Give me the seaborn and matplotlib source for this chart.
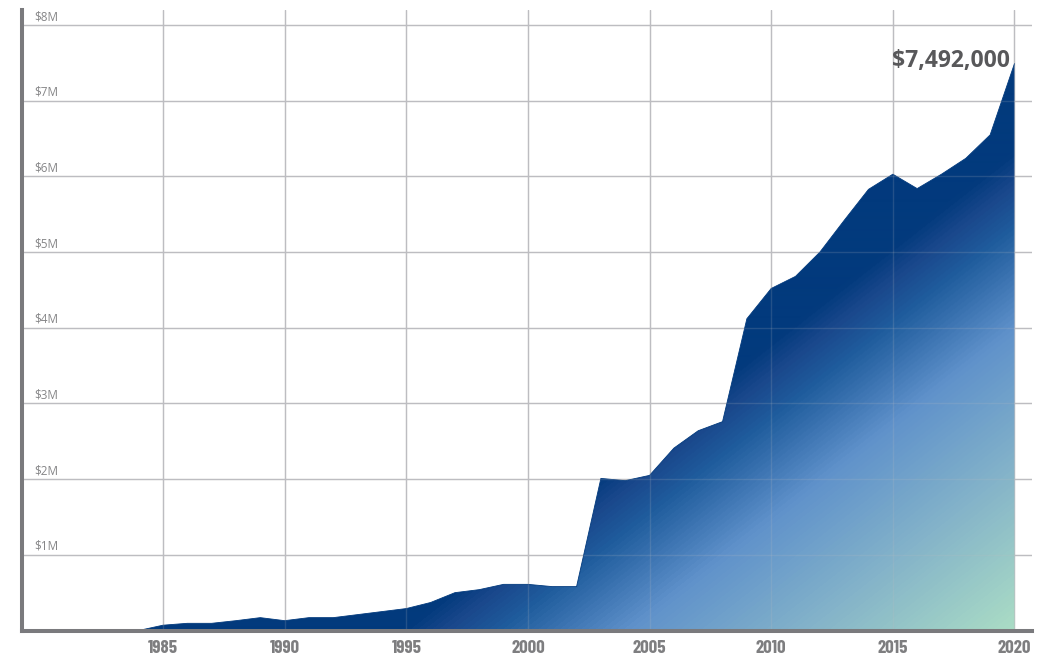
import numpy as np
import pandas as pd
import matplotlib
matplotlib.use("Agg")
import matplotlib.pyplot as plt
from matplotlib.colors import LinearSegmentedColormap
import seaborn as sns

# data (millions of dollars)
years = list(range(1984, 2021))
amounts = [0.0, 0.07, 0.095, 0.095, 0.13, 0.17, 0.13, 0.17, 0.17, 0.21,
           0.25, 0.29, 0.37, 0.50, 0.54, 0.61, 0.61, 0.58, 0.58, 2.01,
           1.98, 2.05, 2.41, 2.64, 2.76, 4.12, 4.52, 4.68, 5.00, 5.42,
           5.83, 6.03, 5.84, 6.03, 6.24, 6.55, 7.492]
year_ticks = [1985, 1990, 1995, 2000, 2005, 2010, 2015, 2020]
money_ticks = [1, 2, 3, 4, 5, 6, 7, 8]
money_labels = ["$1M", "$2M", "$3M", "$4M", "$5M", "$6M", "$7M", "$8M"]
peak_label = "$7,492,000"

df = pd.DataFrame({"year": years, "amount": [a * 1e6 for a in amounts]})

sns.set_style("white")
GRID = "#bdbdc1"
AXIS = "#7a7a7d"

W, H = 1043, 657
fig = plt.figure(figsize=(W / 100, H / 100), dpi=100)
left, right, bottom, top = 22, 1032, 26.5, 647
ax = fig.add_axes([left / W, bottom / H, (right - left) / W, (top - bottom) / H])

x0, x1 = 1979.205, 2020.72
ax.set_xlim(x0, x1)
ax.set_ylim(0, 8.2e6)

# gradient fill clipped to the area (diagonal, dark top-left -> mint bottom-right)
poly = ax.fill_between(df["year"], df["amount"], color="none", lw=0, zorder=2)
nx, ny = int(right - left), int(top - bottom)
px = left + np.arange(nx)[None, :]
py = (H - top) + np.arange(ny)[:, None]
t = 0.616 * px + 0.788 * py
stops = [(0, "#023a7d"), (745, "#023a7d"), (772, "#1a488c"), (805, "#1f5c9d"),
         (885, "#6092cb"), (1000, "#86b5c9"), (1120, "#aadcc5")]
tmax = stops[-1][0]
cmap = LinearSegmentedColormap.from_list("fund", [(s / tmax, c) for s, c in stops])
im = ax.imshow(np.clip(t / tmax, 0, 1), cmap=cmap, vmin=0, vmax=1, aspect="auto",
               extent=[x0, x1, 0, 8.2e6], origin="upper", zorder=2,
               interpolation="bilinear")
im.set_clip_path(poly.get_paths()[0], transform=ax.transData)
sns.lineplot(data=df, x="year", y="amount", ax=ax, color="#023a7d", lw=0.6, zorder=3)

# grid below and faint grid over the fill
ax.set_xticks(year_ticks)
ax.set_yticks([m * 1e6 for m in money_ticks])
ax.set_axisbelow(True)
ax.grid(True, color=GRID, lw=1.0)
for yr in year_ticks:
    ax.axvline(yr, color=GRID, lw=1.0, alpha=0.18, zorder=4)
for m in money_ticks:
    ax.axhline(m * 1e6, color=GRID, lw=1.0, alpha=0.18, zorder=4)

for s in ["top", "right"]:
    ax.spines[s].set_visible(False)
for s in ["left", "bottom"]:
    ax.spines[s].set_color(AXIS)
    ax.spines[s].set_linewidth(2.9)
    ax.spines[s].set_zorder(5)

ax.tick_params(axis="both", length=0)
ax.tick_params(axis="x", pad=6.5)
ax.set_yticklabels([])
ax.set_xticklabels([str(y) for y in year_ticks],
                   family=["Barlow Condensed", "DejaVu Sans"],
                   fontweight="bold", fontsize=13.5, color="#7e7e80")
ax.set_xlabel("")
ax.set_ylabel("")

for m, lab in zip(money_ticks, money_labels):
    ax.annotate(lab, xy=(0, m * 1e6), xycoords=("axes fraction", "data"),
                xytext=(8.6, 3.6), textcoords="offset points",
                ha="left", va="baseline", fontsize=8.5,
                family=["Open Sans", "DejaVu Sans"], color="#858587")

ax.annotate(peak_label, xy=(years[-1], amounts[-1] * 1e6),
            xytext=(-3, 2), textcoords="offset points", ha="right", va="center",
            family=["Open Sans", "DejaVu Sans"], fontweight="bold",
            fontsize=16.5, color="#58585a", zorder=6)

fig.savefig("out.png", dpi=100)
